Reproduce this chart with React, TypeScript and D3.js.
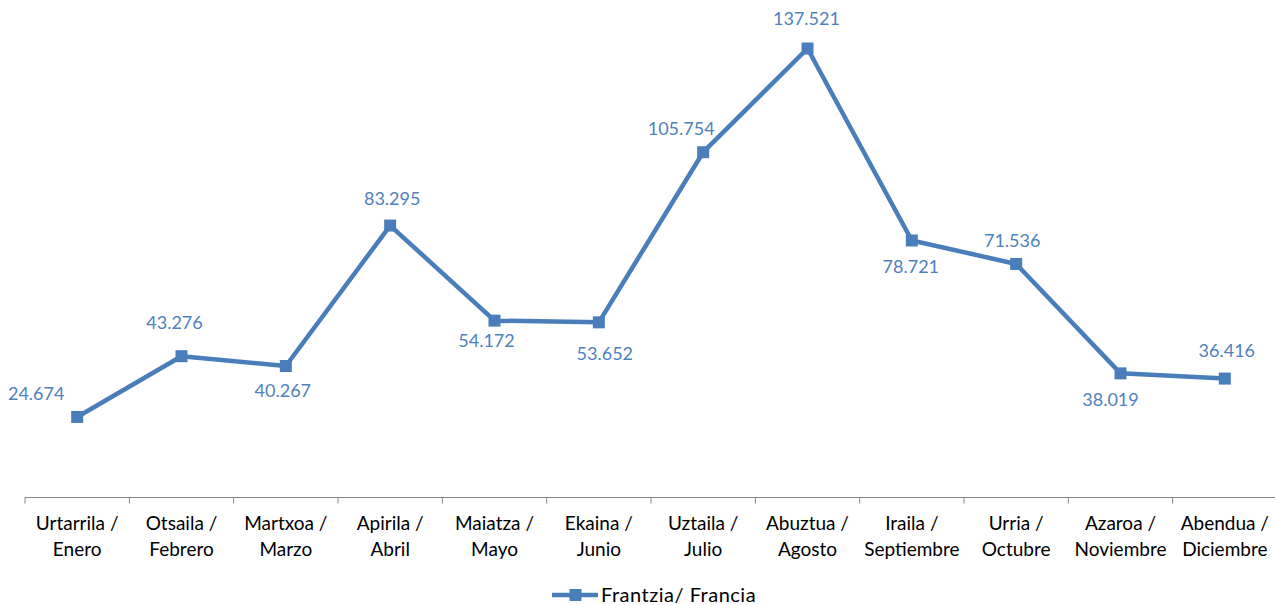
import { useEffect, useRef } from 'react';
import * as d3 from 'd3';

const months = [
  ['Urtarrila /', 'Enero'],
  ['Otsaila /', 'Febrero'],
  ['Martxoa /', 'Marzo'],
  ['Apirila /', 'Abril'],
  ['Maiatza /', 'Mayo'],
  ['Ekaina /', 'Junio'],
  ['Uztaila /', 'Julio'],
  ['Abuztua /', 'Agosto'],
  ['Iraila /', 'Septiembre'],
  ['Urria /', 'Octubre'],
  ['Azaroa /', 'Noviembre'],
  ['Abendua /', 'Diciembre'],
];
const francia = [24.674, 43.276, 40.267, 83.295, 54.172, 53.652, 105.754, 137.521, 78.721, 71.536, 38.019, 36.416];
const valueLabels = ['24.674', '43.276', '40.267', '83.295', '54.172', '53.652', '105.754', '137.521', '78.721', '71.536', '38.019', '36.416'];
const seriesName = 'Frantzia/ Francia';

// label nudges relative to each point (baseline, text centred)
const labelNudge = [
  [-41, -17], [-7, -27], [-3, 31], [2, -21], [-8, 26], [6, 38],
  [-22, -17], [-1, -23], [-1, 33], [-4, -17], [-10, 33], [2, -22],
];

const lineColor = '#4a7ebb';
const labelColor = '#4f81bd';
const font = 'Lato, "Open Sans", sans-serif';

const App = () => {
  const svgRef = useRef<SVGSVGElement>(null);

  useEffect(() => {
    const width = 1275;
    const height = 605;
    const axisY = 497.5;
    const svg = d3.select(svgRef.current);
    svg.selectAll('*').remove();

    const x = d3.scaleBand().domain(months.map((m) => m.join(' '))).range([25, 1277]);
    const y = d3.scaleLinear().domain([0, 140]).range([axisY, axisY - 140 * 3.265]);
    const cx = (i: number) => (x(months[i].join(' ')) as number) + x.bandwidth() / 2;

    // axis
    const axis = svg.append('g');
    axis.append('line')
      .attr('x1', 25).attr('x2', 1275)
      .attr('y1', axisY).attr('y2', axisY)
      .attr('stroke', '#868686').attr('stroke-width', 1);
    const edges = months.map((m) => x(m.join(' ')) as number);
    axis.selectAll('line.tick')
      .data(edges)
      .enter()
      .append('line')
      .attr('class', 'tick')
      .attr('x1', (d) => d).attr('x2', (d) => d)
      .attr('y1', axisY).attr('y2', axisY + 6)
      .attr('stroke', '#868686');

    const cats = svg.append('g')
      .attr('font-family', font)
      .attr('font-size', 19)
      .attr('fill', '#000')
      .attr('text-anchor', 'middle');
    months.forEach((m, i) => {
      m.forEach((t, j) => {
        cats.append('text')
          .attr('x', cx(i))
          .attr('y', 530 + j * 25.5)
          .text(t);
      });
    });

    // line
    const line = d3.line<number>()
      .x((_, i) => cx(i))
      .y((d) => y(d));
    svg.append('path')
      .datum(francia)
      .attr('d', line)
      .attr('fill', 'none')
      .attr('stroke', lineColor)
      .attr('stroke-width', 4.5)
      .attr('stroke-linejoin', 'round');

    svg.append('g')
      .selectAll('rect')
      .data(francia)
      .enter()
      .append('rect')
      .attr('x', (_, i) => cx(i) - 6)
      .attr('y', (d) => y(d) - 6)
      .attr('width', 12)
      .attr('height', 12)
      .attr('fill', lineColor);

    svg.append('g')
      .attr('font-family', font)
      .attr('font-size', 18)
      .attr('fill', labelColor)
      .attr('text-anchor', 'middle')
      .selectAll('text')
      .data(francia)
      .enter()
      .append('text')
      .attr('x', (_, i) => cx(i) + labelNudge[i][0])
      .attr('y', (d, i) => y(d) + labelNudge[i][1])
      .text((_, i) => valueLabels[i]);

    // legend
    const lg = svg.append('g');
    lg.append('line')
      .attr('x1', 552).attr('x2', 598)
      .attr('y1', 595).attr('y2', 595)
      .attr('stroke', lineColor).attr('stroke-width', 4.5);
    lg.append('rect')
      .attr('x', 569.5).attr('y', 589)
      .attr('width', 12).attr('height', 12)
      .attr('fill', lineColor);
    lg.append('text')
      .attr('x', 601).attr('y', 602)
      .attr('font-family', font)
      .attr('font-size', 20)
      .attr('letter-spacing', 0.5)
      .attr('fill', '#000')
      .text(seriesName);

    svg.attr('width', width).attr('height', height);
  }, []);

  return (
    <div style={{ position: 'absolute', left: 0, top: 0 }}>
      <svg ref={svgRef} style={{ display: 'block' }}></svg>
    </div>
  );
};

export default App;
